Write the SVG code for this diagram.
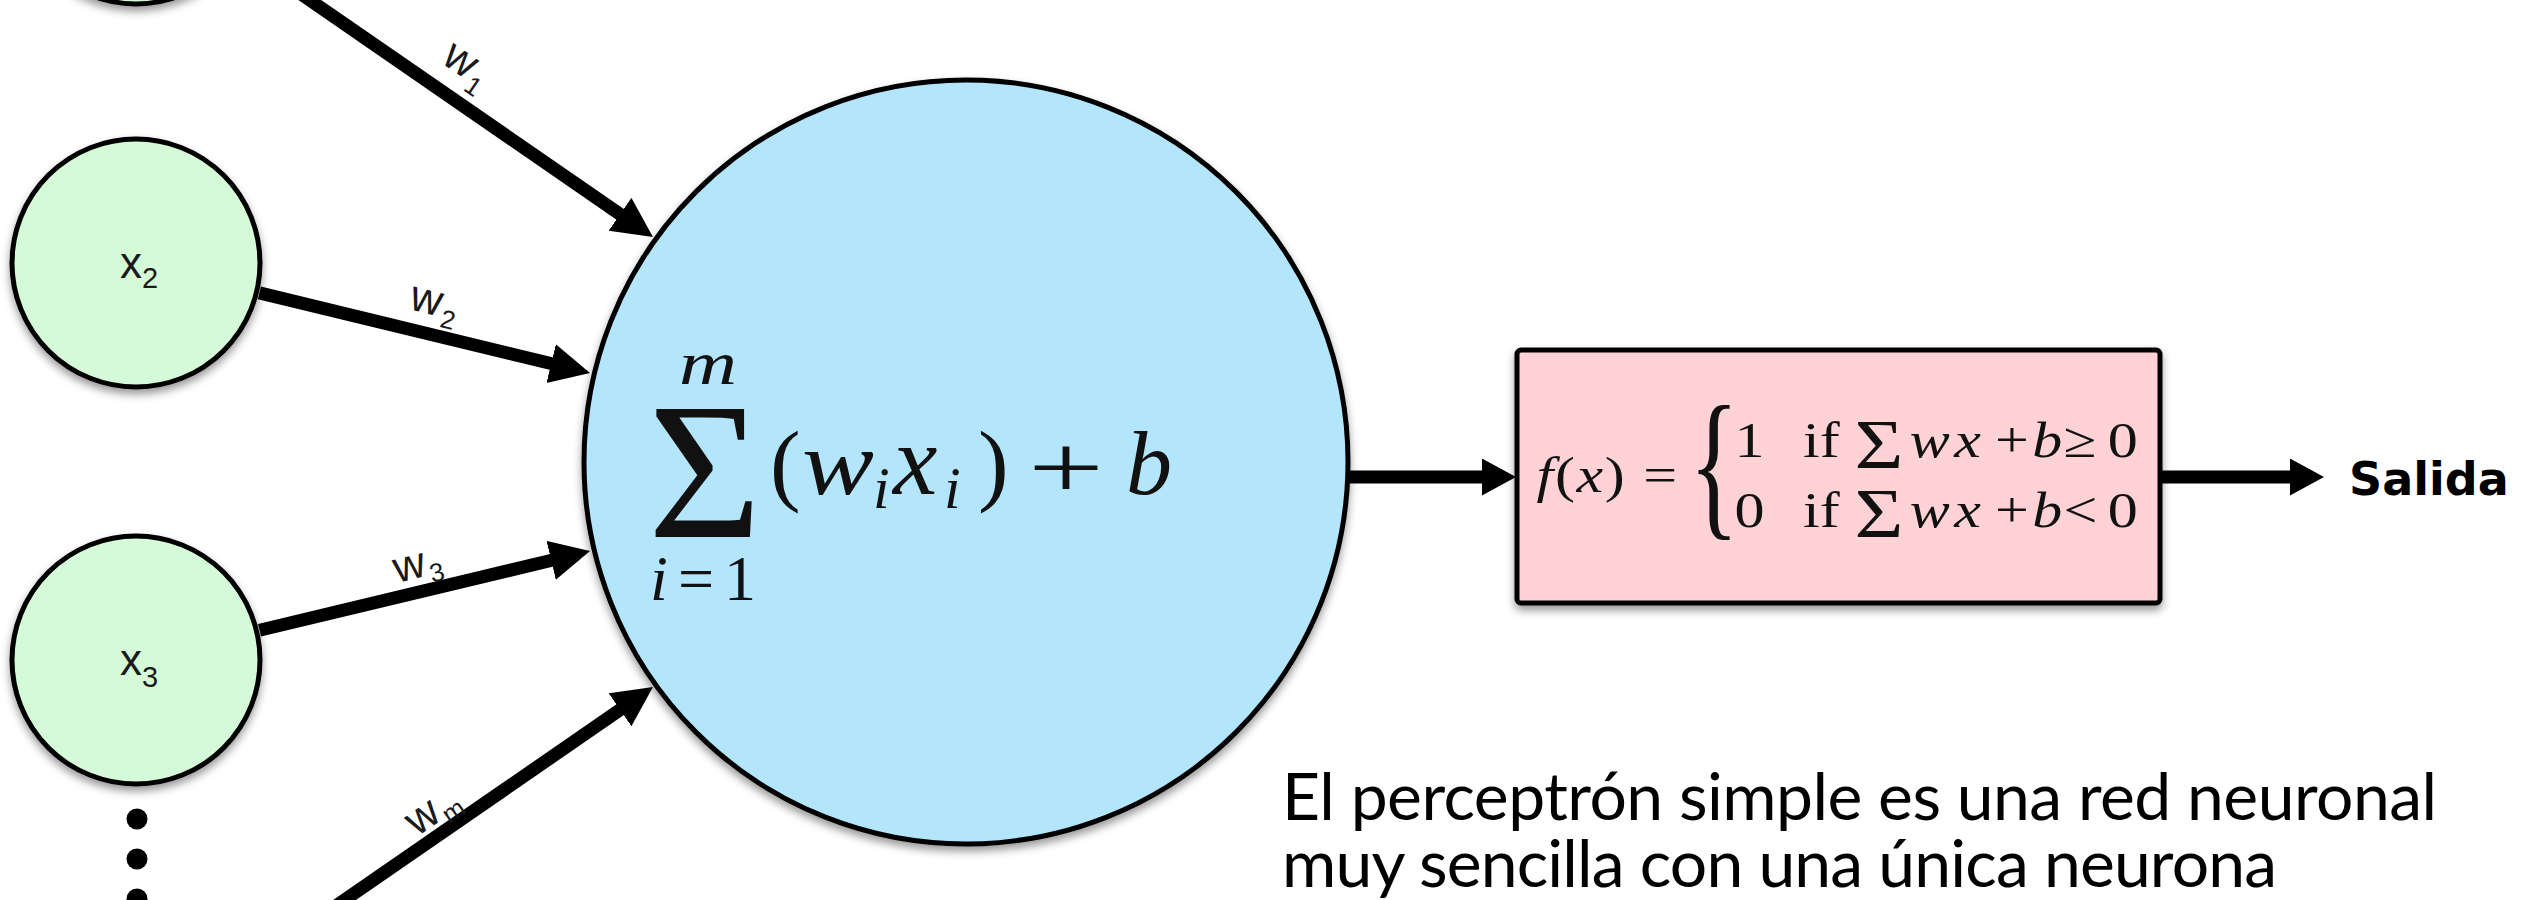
<svg xmlns="http://www.w3.org/2000/svg" width="2526" height="900" viewBox="0 0 2526 900">
<defs>
  <filter id="shadow" x="-20%" y="-20%" width="140%" height="150%">
    <feDropShadow dx="0" dy="5" stdDeviation="4" flood-color="#000" flood-opacity="0.4"/>
  </filter>
  <marker id="head" markerUnits="userSpaceOnUse" markerWidth="42" markerHeight="42" refX="20" refY="20" orient="auto">
    <path d="M0,0 L40,20 L0,40 z" fill="#000"/>
  </marker>
  <marker id="head2" markerUnits="userSpaceOnUse" markerWidth="36" markerHeight="38" refX="14" refY="18.5" orient="auto">
    <path d="M0,0 L34,18.5 L0,37 z" fill="#000"/>
  </marker>
</defs>
<style>
  .in { fill:#d5fad7; stroke:#000; stroke-width:5; }
  .conn { stroke:#000; stroke-width:13; fill:none; }
  .lbl { font-family:"Liberation Sans", Arial, sans-serif; font-size:44px; fill:#1a1a1a; }
  .sub { font-size:29px; }
  .wsub { font-size:26px; }
  .math { font-family:"Liberation Serif", "Times New Roman", serif; fill:#111; }
  .it { font-style:italic; }
</style>

<g id="x1">
  <circle cx="136" cy="-120" r="124" class="in" filter="url(#shadow)"/>
</g>
<g id="x2">
  <circle cx="136" cy="263" r="124" class="in" filter="url(#shadow)"/>
  <text class="lbl" x="120" y="278">x<tspan class="sub" x="142" y="288">2</tspan></text>
</g>
<g id="x3">
  <circle cx="136" cy="660" r="124" class="in" filter="url(#shadow)"/>
  <text class="lbl" x="120" y="675">x<tspan class="sub" x="142" y="687">3</tspan></text>
</g>
<g id="dots">
  <circle cx="137" cy="819" r="10.5" fill="#000"/>
  <circle cx="137" cy="859" r="10.5" fill="#000"/>
  <circle cx="137" cy="899" r="10.5" fill="#000"/>
</g>

<g id="neuron">
  <circle cx="966" cy="462" r="382" fill="#b3e5fc" stroke="#000" stroke-width="5" filter="url(#shadow)"/>
  <text class="math" x="648" y="537" font-size="195">Σ</text>
  <text class="math it" x="679" y="384" font-size="62" textLength="58" lengthAdjust="spacingAndGlyphs">m</text>
  <text class="math it" x="802" y="494" font-size="92" textLength="72" lengthAdjust="spacingAndGlyphs">w</text>
  <text class="math" y="494" font-size="92"><tspan x="770">(</tspan><tspan x="873" dy="14" font-size="60" class="it">i</tspan><tspan x="893" dy="-14" class="it" font-size="100">x</tspan><tspan x="944" dy="14" font-size="60" class="it">i</tspan><tspan x="978" dy="-14">)</tspan></text>
  <text class="math" x="1028" y="498" font-size="92" textLength="76" lengthAdjust="spacingAndGlyphs">+</text>
  <text class="math it" x="1126" y="494" font-size="92">b</text>
  <text class="math" y="600" font-size="64"><tspan x="650" class="it">i</tspan><tspan x="678">=</tspan><tspan x="724">1</tspan></text>
</g>

<g id="activation">
  <rect x="1517" y="350" width="643" height="253" rx="4" fill="#ffd2d5" stroke="#000" stroke-width="5" filter="url(#shadow)"/>
  <text class="math" font-size="120" transform="translate(1689,518) scale(0.87,1.36)">{</text>
  <g transform="translate(1539,0) scale(1.2,1) translate(-1539,0)" class="math" font-size="50">
    <text x="1537" y="492" textLength="117"><tspan class="it">f</tspan>(<tspan class="it">x</tspan>) =</text>
    <text y="457"><tspan x="1702">1</tspan><tspan x="1759">if</tspan><tspan x="1802" dy="11" font-size="70">Σ</tspan><tspan x="1848" dy="-11" class="it">w</tspan><tspan x="1885" class="it">x</tspan><tspan x="1919">+</tspan><tspan x="1950" class="it">b</tspan><tspan x="1976">≥</tspan><tspan x="2013">0</tspan></text>
    <text y="527"><tspan x="1702">0</tspan><tspan x="1759">if</tspan><tspan x="1802" dy="10" font-size="70">Σ</tspan><tspan x="1848" dy="-10" class="it">w</tspan><tspan x="1885" class="it">x</tspan><tspan x="1919">+</tspan><tspan x="1950" class="it">b</tspan><tspan x="1976">&lt;</tspan><tspan x="2013">0</tspan></text>
  </g>
</g>

<g id="output">
  <text x="2349" y="495" font-family="DejaVu Sans, sans-serif" font-weight="bold" font-size="46" fill="#000">Salida</text>
</g>

<g id="caption">
  <text x="1282" y="820" font-family="Lato, 'Open Sans', sans-serif" font-size="66" fill="#000" textLength="1155">El perceptrón simple es una red neuronal</text>
  <text x="1282" y="887" font-family="Lato, 'Open Sans', sans-serif" font-size="66" fill="#000" textLength="995">muy sencilla con una única neurona</text>
</g>

<g id="connectors">
  <line class="conn" x1="240.5" y1="-47.8" x2="636.5" y2="225.6" marker-end="url(#head)"/>
  <line class="conn" x1="259.4" y1="292.9" x2="570.6" y2="368.3" marker-end="url(#head)"/>
  <line class="conn" x1="259.5" y1="630.3" x2="570.6" y2="555.7" marker-end="url(#head)"/>
  <line class="conn" x1="240.5" y1="971.8" x2="636.5" y2="698.4" marker-end="url(#head)"/>
  <line class="conn" x1="1346" y1="477" x2="1496" y2="477" marker-end="url(#head2)"/>
  <line class="conn" x1="2160" y1="477" x2="2304" y2="477" marker-end="url(#head2)"/>
  <text class="lbl" transform="translate(440,62) rotate(34.6)">w<tspan class="wsub" x="34" y="10">1</tspan></text>
  <text class="lbl" transform="translate(408,309) rotate(13.6)">w<tspan class="wsub" x="34" y="10">2</tspan></text>
  <text class="lbl" transform="translate(397,583) rotate(-13.6)">w<tspan class="wsub" x="34" y="8">3</tspan></text>
  <text class="lbl" transform="translate(417,837) rotate(-34.6)">w<tspan class="wsub" x="34" y="8">m</tspan></text>
</g>
</svg>
